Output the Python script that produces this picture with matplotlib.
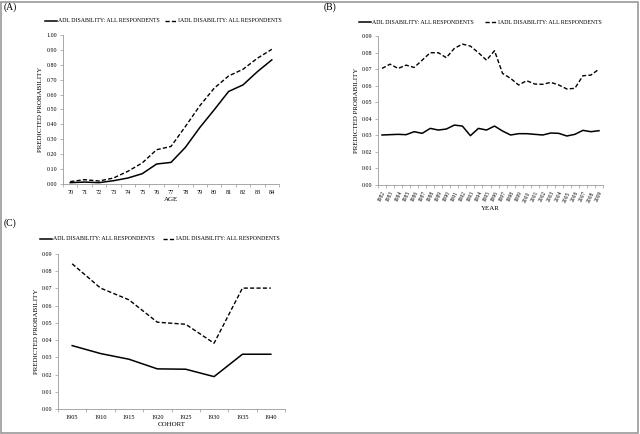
import matplotlib
matplotlib.use("Agg")
import matplotlib.pyplot as plt
from matplotlib.patches import Rectangle

plt.rcParams['font.family'] = ['Liberation Serif', 'DejaVu Serif']

ages = [str(a) for a in range(70, 85)]
adl_age = [0.009, 0.013, 0.009, 0.022, 0.040, 0.069, 0.134, 0.145, 0.246, 0.379, 0.498, 0.621, 0.665, 0.754, 0.833]
iadl_age = [0.016, 0.029, 0.020, 0.040, 0.085, 0.141, 0.230, 0.252, 0.386, 0.525, 0.643, 0.725, 0.770, 0.844, 0.904]

years = [str(y) for y in range(1982, 2010)]
adl_year = [0.0302, 0.0304, 0.0306, 0.0304, 0.0322, 0.0312, 0.0342, 0.0332, 0.0338, 0.0362,
            0.0356, 0.0298, 0.0342, 0.0332, 0.0356, 0.0326, 0.0302, 0.0310, 0.0310, 0.0306,
            0.0302, 0.0314, 0.0312, 0.0296, 0.0306, 0.0330, 0.0322, 0.0328]
iadl_year = [0.0704, 0.0730, 0.0704, 0.0724, 0.0710, 0.0754, 0.0799, 0.0799, 0.0769, 0.0825,
             0.0851, 0.0839, 0.0799, 0.0754, 0.0811, 0.0674, 0.0644, 0.0604, 0.0630, 0.0610,
             0.0608, 0.0620, 0.0604, 0.0580, 0.0584, 0.0660, 0.0664, 0.0700]

cohorts = ['1905', '1910', '1915', '1920', '1925', '1930', '1935', '1940']
adl_cohort = [0.0368, 0.0322, 0.0289, 0.0233, 0.0231, 0.0188, 0.0318, 0.0318]
iadl_cohort = [0.0843, 0.0702, 0.0634, 0.0504, 0.0492, 0.0382, 0.0702, 0.0702]

W, H = 640, 434
fig = plt.figure(figsize=(6.4, 4.34), dpi=100)

def rect(l, t, r, b):
    return [l / W, 1 - b / H, (r - l) / W, (b - t) / H]

def panel(box, cats, adl, iadl, ymax, ystep, fmt, xlabel, rot, label, labpos, ylab_x, leg_y, leg_x):
    ax = fig.add_axes(rect(*box))
    x = list(range(len(cats)))
    ax.plot(x, adl, color='black', lw=1.1, ls='-')
    ax.plot(x, iadl, color='black', lw=1.0, ls=(0, (3, 1.6)))
    ax.set_xlim(-0.5, len(cats) - 0.5)
    ax.set_ylim(0, ymax)
    n = int(round(ymax / ystep))
    ticks = [i * ystep for i in range(n + 1)]
    ax.set_yticks(ticks)
    ax.set_yticklabels([fmt.format(t) for t in ticks], fontsize=4.3)
    ax.set_xticks(x)
    if rot:
        ax.set_xticklabels(cats, fontsize=4.0, rotation=65, ha='right', rotation_mode='anchor')
    else:
        ax.set_xticklabels(cats, fontsize=4.5)
    ax.set_xticks([i - 0.5 for i in range(len(cats) + 1)], minor=True)
    ax.tick_params(axis='x', which='major', length=0, pad=4)
    ax.tick_params(axis='x', which='minor', length=2, width=0.5, color='#999999', direction='out')
    ax.tick_params(axis='y', length=2, width=0.5, color='#999999', pad=2)
    for s in ['top', 'right']:
        ax.spines[s].set_visible(False)
    for s in ['left', 'bottom']:
        ax.spines[s].set_color('#999999')
        ax.spines[s].set_linewidth(0.6)
    ax.set_xlabel(xlabel, fontsize=5, labelpad=2)
    ax.set_ylabel('PREDICTED PROBABILITY', fontsize=5)
    ax.yaxis.set_label_coords((ylab_x - box[0]) / (box[2] - box[0]), 0.5)
    fig.text(labpos[0] / W, 1 - labpos[1] / H, label, fontsize=7, va='center', ha='left')
    # legend
    ly = 1 - leg_y / H
    x0 = leg_x[0]
    fig.add_artist(plt.Line2D([x0 / W, (x0 + 12) / W], [ly, ly], color='black', lw=1.1))
    fig.text((x0 + 13) / W, ly, 'ADL DISABILITY: ALL RESPONDENTS', fontsize=4.2, va='center', ha='left')
    x1 = leg_x[1]
    fig.add_artist(plt.Line2D([x1 / W, (x1 + 12) / W], [ly, ly], color='black', lw=1.0, ls=(0, (3, 1.6))))
    fig.text((x1 + 13) / W, ly, 'IADL DISABILITY: ALL RESPONDENTS', fontsize=4.2, va='center', ha='left')
    return ax

panel((63, 35, 279, 184), ages, adl_age, iadl_age, 1.0, 0.1, '{:.2f}', 'AGE', False,
      '(A)', (4, 7), 43, 21, (45, 165))
panel((378, 36, 603, 185), years, adl_year, iadl_year, 0.09, 0.01, '{:.2f}', 'YEAR', True,
      '(B)', (324, 7), 359, 22, (359, 485))
panel((58, 254, 285, 409), cohorts, adl_cohort, iadl_cohort, 0.09, 0.01, '{:.2f}', 'COHORT', False,
      '(C)', (4, 223), 39, 239, (40, 163))

fig.add_artist(Rectangle((1 / W, 1 / H), (W - 3) / W, (H - 3) / H, transform=fig.transFigure,
                         fill=False, edgecolor='#999999', lw=1.2))

fig.savefig('out.png', dpi=100)
